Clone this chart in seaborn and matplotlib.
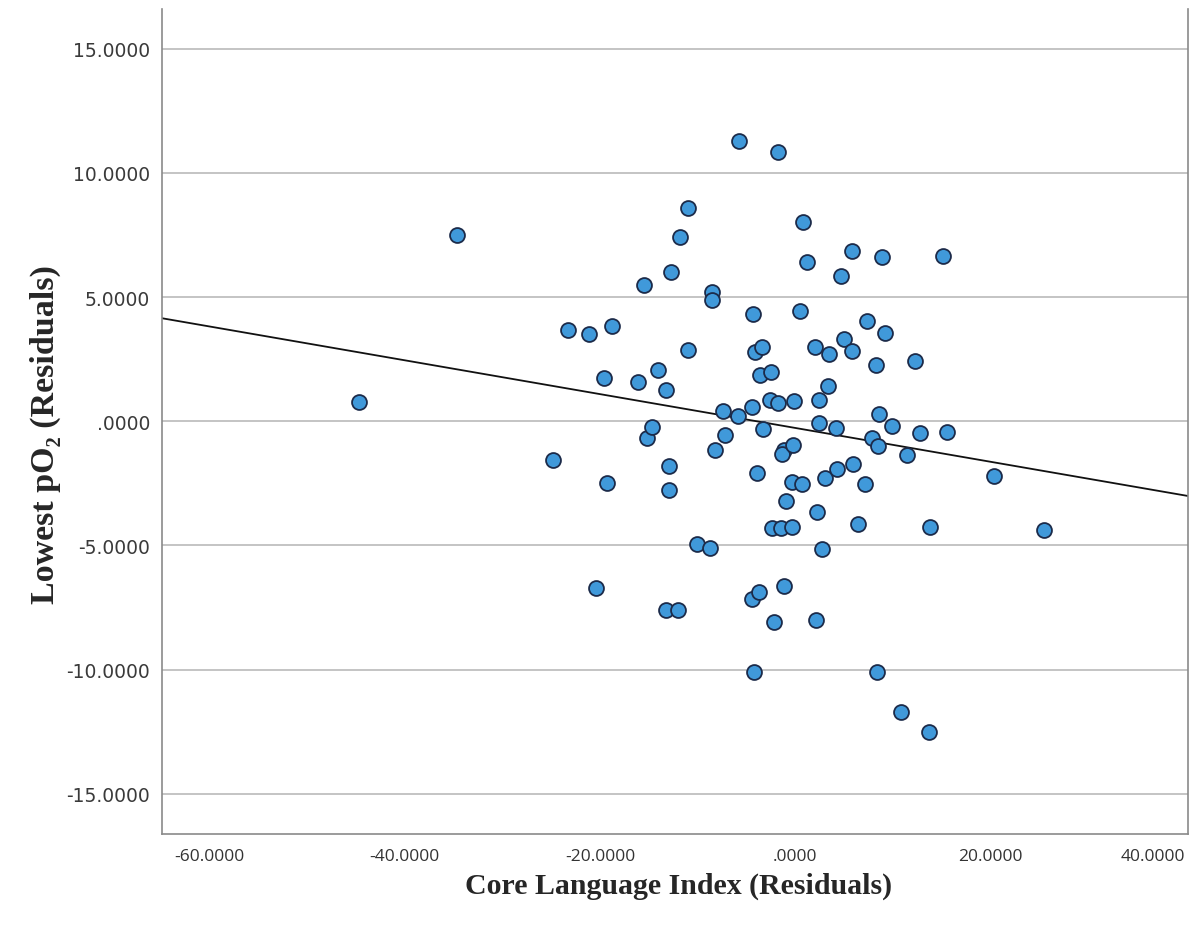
import matplotlib
matplotlib.use("Agg")
import matplotlib.pyplot as plt
import seaborn as sns
import numpy as np
import pandas as pd

# Data
core_language_resid = [
    -44.72, -34.67, -24.82, -23.28, -21.13, -18.77, -19.59, -19.28, -20.41,
    -15.49, -16.10, -15.18, -14.67, -14.05, -13.23, -12.72, -12.92, -12.92,
    -13.23, -12.00, -11.79, -10.97, -10.97, -10.05, -8.72, -8.51, -8.51,
    -8.21, -7.38, -7.18, -5.85, -5.74, -4.41, -4.31, -4.21, -4.41, -4.10,
    -3.90, -3.69, -3.59, -3.38, -3.28, -2.56, -2.46, -2.36, -2.15, -1.74,
    -1.74, -1.13, -1.33, -1.13, -1.44, -0.92, -0.31, -0.31, -0.21, -0.10,
    0.51, 0.72, 0.82, 1.23, 2.05, 2.15, 2.26, 2.46, 2.46, 2.77, 3.38, 3.49,
    3.08, 4.21, 4.31, 4.72, 5.03, 5.85, 5.85, 5.95, 6.46, 7.18, 7.38, 7.90,
    8.31, 8.41, 8.51, 8.62, 8.92, 9.23, 9.95, 10.87, 11.49, 12.31, 12.82,
    13.85, 13.74, 15.18, 15.59, 20.41, 25.54,
]
lowest_po2_resid = [
    0.78, 7.51, -1.56, 3.69, 3.52, 3.84, 1.75, -2.49, -6.73,
    5.50, 1.59, -0.67, -0.23, 2.07, 1.26, 6.02, -1.80, -2.77,
    -7.61, -7.61, 7.43, 8.60, 2.88, -4.95, -5.11, 5.21, 4.89,
    -1.16, 0.42, -0.55, 0.21, 11.30, 0.58, 4.33, -10.11, -7.17, 2.79,
    -2.10, -6.88, 1.87, 3.00, -0.31, 0.86, 1.99, -4.30, -8.09, 10.83,
    0.74, -1.16, -1.32, -6.63, -4.30, -3.21, -2.45, -4.26, -0.96, 0.82,
    4.45, -2.53, 8.04, 6.42, 3.00, -8.01, -3.66, 0.86, -0.07, -5.15, 1.42, 2.72,
    -2.28, -0.27, -1.92, 5.86, 3.32, 6.85, 2.81, -1.72, -4.14, -2.53, 4.05, -0.67,
    2.27, -10.11, -1.00, 0.29, 6.63, 3.56, -0.19, -11.72, -1.36, 2.43, -0.47,
    -4.24, -12.53, 6.67, -0.43, -2.20, -4.37,
]

x_ticks = [-60, -40, -20, 0, 20, 40]
x_tick_labels = ["-60.0000", "-40.0000", "-20.0000", ".0000", "20.0000", "40.0000"]
y_ticks = [-15, -10, -5, 0, 5, 10, 15]
y_tick_labels = ["-15.0000", "-10.0000", "-5.0000", ".0000", "5.0000", "10.0000", "15.0000"]
x_limits = (-64.9, 40.3)
y_limits = (-16.62, 16.6)

x_title = "Core Language Index (Residuals)"
y_title = "Lowest pO\u2082 (Residuals)"

df = pd.DataFrame({"x": core_language_resid, "y": lowest_po2_resid})

sns.set_style("white")
fig = plt.figure(figsize=(11.91, 9.28), dpi=100)
ax = fig.add_axes([162 / 1191, 1 - 835 / 928, (1188 - 162) / 1191, (835 - 10) / 928])
ax.set_xlim(*x_limits)
ax.set_ylim(*y_limits)

for yv in y_ticks:
    ax.axhline(yv, color="#c4c4c4", lw=1.4, zorder=0)

sns.regplot(
    data=df, x="x", y="y", ax=ax, ci=None, truncate=False,
    scatter_kws=dict(s=115, color="#4099da", edgecolors="#1c2b4a", linewidths=1.3, alpha=1, zorder=3),
    line_kws=dict(color="#111111", lw=1.3, zorder=2),
)
ax.set_xlim(*x_limits)
ax.set_ylim(*y_limits)

ax.set_xticks(x_ticks)
ax.set_xticklabels(x_tick_labels, fontsize=12.5, color="#333333", family="Open Sans")
ax.set_yticks(y_ticks)
ax.set_yticklabels(y_tick_labels, fontsize=13.5, color="#3a3a3a", family="DejaVu Sans")
ax.get_xticklabels()[-1].set_ha("right")
ax.tick_params(axis="x", length=0, pad=10)
ax.tick_params(axis="y", length=0, pad=8.5)

for side in ["left", "bottom", "right", "top"]:
    ax.spines[side].set_color("#8a8a8a")
    ax.spines[side].set_linewidth(1.2)
ax.spines["top"].set_visible(False)

ax.set_xlabel("")
ax.set_ylabel("")
fig.text(679 / 1191, 1 - 886 / 928, x_title, ha="center", va="center",
         fontsize=21.5, family="Liberation Serif", fontweight="bold")
fig.text(45 / 1191, 1 - 435 / 928, y_title, ha="center", va="center", rotation=90,
         fontsize=24.5, family=["Liberation Serif", "DejaVu Serif"], fontweight="bold")

fig.savefig("out.png", dpi=100)
